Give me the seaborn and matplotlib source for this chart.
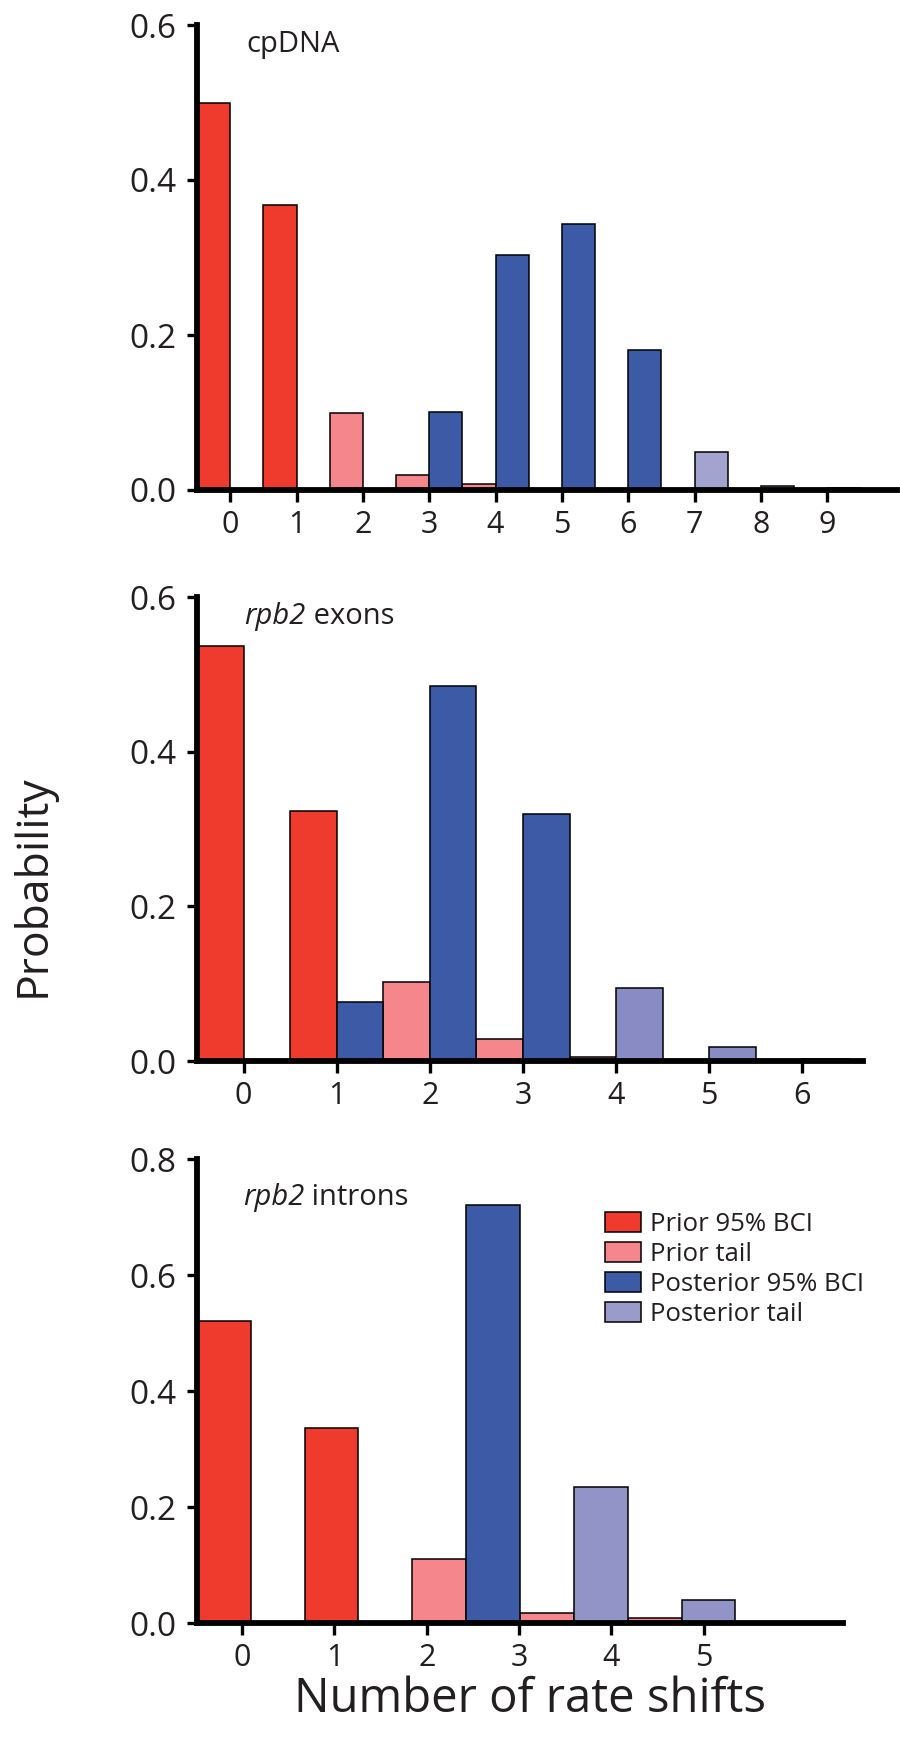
import numpy as np
import pandas as pd
import matplotlib
matplotlib.use("Agg")
import matplotlib.pyplot as plt
import seaborn as sns
from matplotlib.patches import Patch

# ---------------- data ----------------
cp_n = list(range(10))
cp_prior = [0.500, 0.368, 0.099, 0.019, 0.008, 0.0, 0.0, 0.0, 0.0, 0.0]
cp_post = [0.0, 0.0, 0.0, 0.101, 0.303, 0.343, 0.181, 0.049, 0.005, 0.002]
cp_prior_bci = [0, 1]
cp_post_bci = [3, 4, 5, 6]

ex_n = list(range(7))
ex_prior = [0.537, 0.323, 0.102, 0.028, 0.005, 0.0, 0.0]
ex_post = [0.0, 0.076, 0.485, 0.320, 0.094, 0.018, 0.002]
ex_prior_bci = [0, 1]
ex_post_bci = [1, 2, 3]

in_n = list(range(6))
in_prior = [0.521, 0.337, 0.110, 0.018, 0.008, 0.0]
in_post = [0.0, 0.0, 0.720, 0.235, 0.040, 0.002]
in_prior_bci = [0, 1]
in_post_bci = [2]

panel_italic = ["", "rpb2", "rpb2"]
panel_plain = ["cpDNA", " exons", " introns"]
legend_labels = ["Prior 95% BCI", "Prior tail", "Posterior 95% BCI", "Posterior tail"]

# ---------------- style ----------------
sns.set_style("ticks")
plt.rcParams["font.family"] = ["Open Sans", "DejaVu Sans"]

TXT = "#231F20"
RED = "#EF3B2D"
PINK = "#F4868C"
BLUE = "#3C5AA6"
LAV = ["#A3A3D0", "#898BC4", "#9294C8"]
LAV_LEG = "#9B9BCB"

fig = plt.figure(figsize=(9, 17.47), dpi=100)
W, H = 900, 1747

# axes boxes in pixels: left, right, y of zero, y of top
boxes = [(197, 897, 490, 25), (197, 863, 1061, 597), (197, 843, 1623, 1159)]
xmax = [10.05, 6.65, 5.5]
ymax = [0.6, 0.6, 0.8]
yticks = [[0.0, 0.2, 0.4, 0.6], [0.0, 0.2, 0.4, 0.6], [0.0, 0.2, 0.4, 0.6, 0.8]]
title_y = [0.958, 0.959, 0.918]
# x tick layout (the bottom panel's labels are spaced tighter than its bars)
tick_scale = [1.0, 1.0, 0.857]
tick_off = [0.0, 0.0, -0.08]

panels = [
    (cp_n, cp_prior, cp_post, cp_prior_bci, cp_post_bci),
    (ex_n, ex_prior, ex_post, ex_prior_bci, ex_post_bci),
    (in_n, in_prior, in_post, in_prior_bci, in_post_bci),
]

for i, (n, prior, post, pbci, qbci) in enumerate(panels):
    l, r, y0, yt = boxes[i]
    ax = fig.add_axes([l / W, 1 - y0 / H, (r - l) / W, (y0 - yt) / H])
    df = pd.DataFrame({
        "n": n + n,
        "dist": ["Prior"] * len(n) + ["Posterior"] * len(n),
        "prob": prior + post,
    })
    sns.barplot(data=df, x="n", y="prob", hue="dist",
                hue_order=["Prior", "Posterior"], dodge=True, width=1.0,
                gap=0, saturation=1, edgecolor="black", linewidth=1.1,
                errorbar=None, legend=False, ax=ax)
    # colour by credible-interval membership
    for cont, dist in zip(ax.containers, ["Prior", "Posterior"]):
        for bar, k in zip(cont, n):
            if dist == "Prior":
                bar.set_facecolor(RED if k in pbci else PINK)
            else:
                bar.set_facecolor(BLUE if k in qbci else LAV[i])
    ax.set_xlim(-0.5, xmax[i])
    ax.set_ylim(0, ymax[i])
    ax.set_yticks(yticks[i])
    ax.set_yticklabels([f"{v:.1f}" for v in yticks[i]])
    ax.set_xticks([tick_off[i] + tick_scale[i] * k for k in n])
    ax.set_xticklabels([str(k) for k in n])
    ax.set_xlabel("")
    ax.set_ylabel("")
    sns.despine(ax=ax)
    for s in ["left", "bottom"]:
        ax.spines[s].set_linewidth(4.2)
        ax.spines[s].set_color("black")
        ax.spines[s].set_capstyle("projecting")
    ax.tick_params(axis="x", length=8.5, width=2.4, pad=6, labelsize=22,
                   colors="black", labelcolor=TXT)
    ax.tick_params(axis="y", length=7, width=2.4, pad=8, labelsize=24,
                   colors="black", labelcolor=TXT)
    if panel_italic[i]:
        t1 = ax.text(0.071, title_y[i], panel_italic[i], transform=ax.transAxes,
                     ha="left", va="center", fontsize=21, color=TXT,
                     style="italic")
        ax.annotate(panel_plain[i], xy=(1, 0), xycoords=t1, ha="left",
                    va="bottom", fontsize=21, color=TXT)
    else:
        ax.text(0.071, title_y[i], panel_plain[i], transform=ax.transAxes,
                ha="left", va="center", fontsize=21, color=TXT)
    ax.set_facecolor("none")

    if i == 2:
        handles = [Patch(facecolor=c, edgecolor="black", linewidth=1.1)
                   for c in [RED, PINK, BLUE, LAV_LEG]]
        ax.legend(handles, legend_labels, loc="upper left",
                  bbox_to_anchor=(0.632, 0.886), frameon=False,
                  fontsize=18.5, handlelength=1.4, handleheight=0.82,
                  handletextpad=0.35, labelspacing=0.2, borderpad=0,
                  borderaxespad=0, labelcolor=TXT)

fig.text(33 / W, 1 - 886 / H, "Probability", rotation=90, ha="center",
         va="center", fontsize=32, color=TXT)
fig.text(530 / W, 1 - 1699 / H, "Number of rate shifts", ha="center",
         va="center", fontsize=34, color=TXT)

fig.savefig("out.png", dpi=100)
